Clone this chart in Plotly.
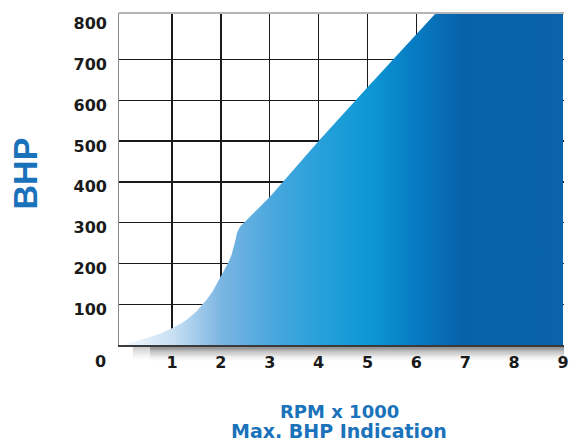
import plotly.graph_objects as go

# Data
rpm = [0, 0.35, 0.7, 1.0, 1.1, 1.2, 1.3, 1.42, 1.5, 1.62, 1.7, 1.83, 1.9, 2.0, 2.08, 2.16, 2.22, 2.26, 2.3, 2.33, 2.39,
       3.0, 4.0, 5.0, 6.0, 7.0, 9.0]
bhp = [0, 12, 25, 41, 47, 54, 62, 73, 82, 99, 110, 131, 146, 167, 184, 204, 222, 238, 258, 275, 290,
       363, 500, 632, 762, 892, 1152]

x_ticks = [1, 2, 3, 4, 5, 6, 7, 8, 9]
x_grid = [1, 2, 3, 4, 5, 6, 7, 8]
y_ticks = [100, 200, 300, 400, 500, 600, 700, 800]
y_grid = [100, 200, 300, 400, 500, 600, 700]

XR = [-0.085, 9.02]
YR = [0, 814]

fig = go.Figure()
fig.add_trace(go.Scatter(
    x=rpm, y=bhp, mode="lines", line=dict(width=0),
    fill="tozeroy",
    fillgradient=dict(
        type="horizontal", start=0, stop=9,
        colorscale=[
            [0.0, "#f4f9fd"],
            [0.111, "#c8e0f3"],
            [0.222, "#7ab5e2"],
            [0.333, "#4aa8de"],
            [0.444, "#27a0da"],
            [0.556, "#0c97d4"],
            [0.667, "#0679c0"],
            [0.76, "#0862aa"],
            [1.0, "#0a63ab"],
        ],
    ),
    hoverinfo="skip", showlegend=False,
))

tickfont = dict(family="DejaVu Sans", size=16, color="#1a1a1a", weight="bold")

fig.update_layout(
    width=569, height=442,
    margin=dict(l=118.5, r=0, t=13, b=97),
    paper_bgcolor="white", plot_bgcolor="white",
    showlegend=False,
    xaxis=dict(range=XR, tickvals=x_grid, showticklabels=False, showgrid=True,
               gridcolor="#1a1a1a", gridwidth=1.3, zeroline=False,
               showline=True, linecolor="#3a3a3a", linewidth=1.5, layer="above traces"),
    yaxis=dict(range=YR, tickvals=y_grid, showticklabels=False, showgrid=True,
               gridcolor="#1a1a1a", gridwidth=1.3, zeroline=False,
               showline=True, linecolor="#8a8a8a", linewidth=1.5, layer="above traces"),
    xaxis2=dict(range=XR, overlaying="x", side="bottom", tickvals=x_ticks,
                showgrid=False, zeroline=False, showline=False,
                tickfont=tickfont, ticklabelstandoff=6, ticklabeloverflow="allow"),
    yaxis2=dict(range=YR, overlaying="y", side="left", tickvals=y_ticks,
                showgrid=False, zeroline=False, showline=False,
                tickfont=tickfont, ticklabelstandoff=11, ticklabelshift=5,
                ticklabeloverflow="allow"),
)
# invisible trace to activate overlay axes
fig.add_trace(go.Scatter(x=[XR[0]], y=[YR[0]], xaxis="x2", yaxis="y2", mode="markers",
                         marker=dict(opacity=0), hoverinfo="skip", showlegend=False))

# Shadow under the x axis
n = 12
px_per_paper = 332.0
for i in range(n):
    y1 = -(1.5 + i * 1.2) / px_per_paper
    y0 = -(1.5 + (i + 1) * 1.2) / px_per_paper
    a = 0.55 * (1 - i / n) ** 1.6
    fig.add_shape(type="rect", xref="x", yref="paper", x0=0.55, x1=9.1, y0=y0, y1=y1,
                  fillcolor=f"rgba(40,40,40,{a:.3f})", line=dict(width=0), layer="below")
    fig.add_shape(type="rect", xref="x", yref="paper", x0=0.2, x1=0.55, y0=y0, y1=y1,
                  fillcolor=f"rgba(40,40,40,{a*0.45:.3f})", line=dict(width=0), layer="below")

# top border
fig.add_shape(type="line", xref="paper", yref="paper", x0=0, x1=1, y0=1, y1=1,
              line=dict(color="#b5b5b5", width=2))

blue = "#1a72ba"
fig.add_annotation(text="0", xref="paper", yref="paper", x=(100 - 118.5) / 450.5,
                   y=(345 - 361) / 332, showarrow=False, font=tickfont,
                   xanchor="center", yanchor="middle")
fig.add_annotation(text="BHP", xref="paper", yref="paper", x=(23.3 - 118.5) / 450.5,
                   y=(345 - 173.5) / 332, showarrow=False, textangle=-90,
                   font=dict(family="Liberation Sans", size=34, color=blue, weight="bold"),
                   xanchor="center", yanchor="middle")
fig.add_annotation(text="RPM x 1000", xref="paper", yref="paper", x=0.495,
                   y=(345 - 411.7) / 332, showarrow=False,
                   font=dict(family="DejaVu Sans", size=18, color=blue, weight="bold"),
                   xanchor="center", yanchor="middle")
fig.add_annotation(text="Max. BHP Indication", xref="paper", yref="paper", x=0.495,
                   y=(345 - 431) / 332, showarrow=False,
                   font=dict(family="DejaVu Sans", size=19, color=blue, weight="bold"),
                   xanchor="center", yanchor="middle")

fig.write_html(
    "out.html",
    config={"displayModeBar": False, "staticPlot": True},
    post_script="document.body.style.margin='0';document.body.style.overflow='hidden';",
)
